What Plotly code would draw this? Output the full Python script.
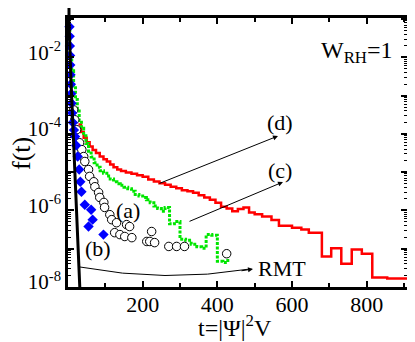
import plotly.graph_objects as go

# ---- data (t, log10 f) ----
# (d) red histogram
t_d = [28, 35, 42, 50, 58, 66, 75, 85, 95, 104, 113, 122, 132, 142, 155, 170, 185, 200,
       215, 230, 245, 260, 275, 290, 305, 320, 335, 350, 365, 380, 395, 410, 425, 440,
       455, 470, 485, 500, 520, 545, 565, 600, 625, 645, 680, 705, 732, 760, 787, 815, 855, 910]
lf_d = [-3.75, -3.95, -4.10, -4.22, -4.33, -4.42, -4.50, -4.59, -4.66, -4.72, -4.80, -4.87,
        -4.93, -4.97, -5.01, -5.04, -5.08, -5.12, -5.19, -5.24, -5.29, -5.33, -5.38, -5.42,
        -5.47, -5.50, -5.54, -5.60, -5.66, -5.72, -5.80, -5.90, -5.95, -6.02, -5.96, -5.92,
        -6.05, -6.10, -6.16, -6.25, -6.40, -6.45, -6.50, -6.58, -7.20, -6.99, -7.39, -7.02,
        -7.13, -7.75, -7.78, -7.78]

# (c) green histogram
t_c = [0, 5, 10, 15, 20, 25, 30, 36, 42, 48, 55, 62, 70, 78, 86, 95, 104, 113, 122, 131,
       140, 150, 160, 170, 180, 190, 200, 210, 220, 230, 240, 250, 260, 272, 285, 300, 315,
       330, 345, 358, 370, 385, 400, 415, 428, 434]
lf_c = [-1.3, -1.9, -2.35, -2.75, -3.1, -3.4, -3.65, -3.85, -4.05, -4.25, -4.45, -4.6,
        -4.75, -4.87, -4.96, -5.03, -5.10, -5.18, -5.25, -5.30, -5.34, -5.39, -5.43, -5.50,
        -5.58, -5.62, -5.66, -5.72, -5.80, -5.88, -5.95, -6.02, -5.92, -6.35, -6.29, -6.75,
        -6.78, -6.88, -6.95, -6.99, -6.63, -6.65, -7.33, -7.36, -7.07, -7.07]

# (a) open circles
t_a = [15, 18, 23, 31, 37, 42, 45, 55, 58, 69, 72, 82, 85, 96, 98, 112, 117, 130, 125,
       139, 152, 157, 165, 171, 211, 219, 224, 232, 270, 291, 312, 425]
lf_a = [-3.37, -3.63, -3.89, -4.23, -4.41, -4.59, -4.72, -4.93, -5.11, -5.25, -5.38, -5.53,
        -5.66, -5.79, -5.92, -6.11, -6.24, -6.32, -6.58, -6.63, -6.68, -6.37, -6.42, -6.71,
        -6.81, -6.81, -6.55, -6.84, -6.94, -6.94, -6.94, -7.13]

# (b) blue diamonds
t_b = [3, 3.5, 4, 4.5, 5, 5.5, 6, 6.5, 7.5, 8.5, 9.5, 11, 13, 16, 19, 22, 26, 30, 33, 36,
       45, 62, 66, 55, 95]
lf_b = [-0.72, -0.95, -1.2, -1.45, -1.7, -1.95, -2.2, -2.45, -2.7, -2.95, -3.2, -3.45, -3.7,
        -3.9, -4.07, -4.3, -4.59, -4.93, -5.25, -5.51, -5.85, -5.98, -6.24, -6.42, -6.63]

# RMT curve
t_rmt = [1, 2, 4, 6, 8, 10, 12, 15, 18, 21, 24, 27, 30, 32]
lf_rmt = [-0.62, -0.98, -1.57, -2.09, -2.59, -3.07, -3.54, -4.24, -4.94, -5.62, -6.30,
          -6.98, -7.65, -8.10]

# page body has an 8px margin, so the figure sits at (8, 8) in the window
OFF = 8
W, H = 415 - OFF, 342 - OFF
ML, MR, MT, MB = 68 - OFF, 8, 18 - OFF, 55
PW, PH = W - ML - MR, H - MT - MB


def P(px, py):
    # window pixel -> paper coords
    px, py = px - OFF, py - OFF
    return (px - ML) / PW, (H - MB - py) / PH


def pow10(v):
    return [10 ** x for x in v]


FONT = "Liberation Serif, Times New Roman, serif"

fig = go.Figure()
fig.add_trace(go.Scatter(x=t_d, y=pow10(lf_d), mode="lines", line_shape="hv",
                         line=dict(color="#ff0000", width=2.5)))
fig.add_trace(go.Scatter(x=t_c, y=pow10(lf_c), mode="lines", line_shape="hv",
                         line=dict(color="#00e600", width=3, dash="3px,1.5px")))
fig.add_trace(go.Scatter(x=t_a, y=pow10(lf_a), mode="markers",
                         marker=dict(symbol="circle", size=8.5, color="white",
                                     line=dict(color="black", width=1))))
fig.add_trace(go.Scatter(x=t_b, y=pow10(lf_b), mode="markers", cliponaxis=False,
                         marker=dict(symbol="diamond", size=8, color="#0000ff",
                                     line=dict(width=0))))
fig.add_trace(go.Scatter(x=t_rmt, y=pow10(lf_rmt), mode="lines",
                         line=dict(color="black", width=3)))

ann = []


def label(txt, px, py, size, angle=0):
    x, y = P(px, py)
    ann.append(dict(x=x, y=y, xref="paper", yref="paper", text=txt, showarrow=False,
                    xanchor="center", yanchor="middle", textangle=angle,
                    font=dict(family=FONT, size=size, color="black")))


for txt, px, py in [("(d)", 280, 122), ("(c)", 280, 170), ("(a)", 128, 210),
                    ("(b)", 98, 248), ("RMT", 282, 268)]:
    label(txt, px, py, 22)
label("W<sub>RH</sub>=1", 357, 52, 24)
# axis titles
label("t=|Ψ|<sup>2</sup>V", 235, 326, 24)
label("f(t)", 21, 153, 26, angle=-90)

for (hx, hy), (tx, ty) in [((278, 136), (158, 184)), ((283, 182), (188, 222)),
                           ((253, 269), (240, 271))]:
    x, y = P(hx, hy)
    ann.append(dict(x=x, y=y, xref="paper", yref="paper", text="", showarrow=True,
                    ax=tx - hx, ay=ty - hy, arrowhead=2, arrowsize=1, arrowwidth=1,
                    arrowcolor="black"))

x0, y0 = P(80, 267)
cx, cy = P(165, 283)
x1, y1 = P(250, 269)
# RMT line runs a little above the frame in the original
ux0, uy0 = P(69, 4)
ux1, uy1 = P(69, 19)
shapes = [dict(type="path", xref="paper", yref="paper",
               path=f"M {x0},{y0} Q {cx},{cy} {x1},{y1}",
               line=dict(color="black", width=1)),
          dict(type="line", xref="paper", yref="paper", x0=ux0, y0=uy0, x1=ux1, y1=uy1,
               line=dict(color="black", width=3))]

ymaj = [10 ** k for k in range(-8, 0)]
ytxt = ["10<sup>-8</sup>", "", "10<sup>-6</sup>", "", "10<sup>-4</sup>", "", "10<sup>-2</sup>", ""]
ymin = [m * 10 ** k for k in range(-8, -1) for m in range(2, 10)]

fig.update_layout(
    width=W, height=H, margin=dict(l=ML, r=MR, t=MT, b=MB),
    plot_bgcolor="white", paper_bgcolor="white", showlegend=False,
    font=dict(family=FONT, size=22, color="black"),
    annotations=ann, shapes=shapes,
)
fig.update_xaxes(range=[0, 908], automargin=False, showgrid=False, zeroline=False,
                 showline=True, linecolor="black", linewidth=2.5, mirror="allticks",
                 ticks="inside", ticklen=6, tickwidth=1.5, tickcolor="black",
                 tickmode="array", tickvals=[200, 400, 600, 800], ticklabelstandoff=-4,
                 minor=dict(ticks="inside", ticklen=4, tickwidth=1.5, dtick=100, tick0=0,
                            tickcolor="black", showgrid=False),
                 tickfont=dict(family=FONT, size=22))
fig.update_yaxes(type="log", range=[-8, -0.97], automargin=False, showgrid=False,
                 zeroline=False, showline=True, linecolor="black", linewidth=2.5,
                 mirror="allticks", ticks="inside", ticklen=6, tickwidth=1.5,
                 tickcolor="black", tickmode="array", tickvals=ymaj, ticktext=ytxt,
                 ticklabelshift=-5,
                 minor=dict(ticks="inside", ticklen=3, tickwidth=1, tickcolor="black",
                            tickmode="array", tickvals=ymin, showgrid=False),
                 tickfont=dict(family=FONT, size=21))

fig.write_html("out.html")
